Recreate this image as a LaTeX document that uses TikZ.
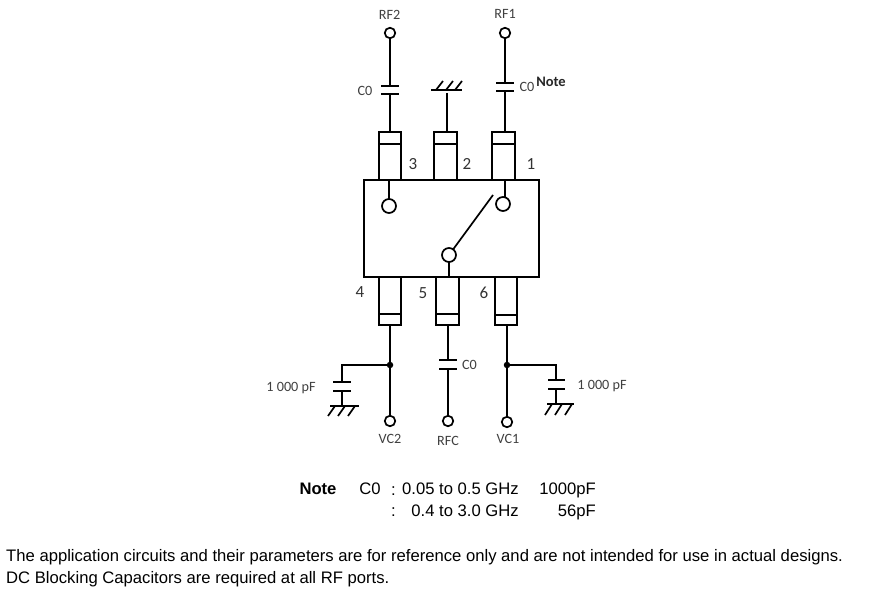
\documentclass[tikz,border=0pt]{standalone}
\usepackage{fontspec}
\setmainfont{Liberation Sans}
\newfontfamily\calfont{Carlito}
\tikzset{
  x=1pt,y=-1pt,
  wire/.style={line width=1.7pt,black},
  pkg/.style={draw,line width=1.8pt,minimum width=22pt,minimum height=48pt,inner sep=0pt,outer sep=0pt},
  body/.style={draw,line width=1.7pt,minimum width=175pt,minimum height=97pt,inner sep=0pt,outer sep=0pt},
  term/.style={draw,circle,line width=1.7pt,minimum size=10.5pt,inner sep=0pt,outer sep=0pt,fill=white},
  innerterm/.style={draw,circle,line width=1.7pt,minimum size=14pt,inner sep=0pt,outer sep=0pt,fill=white},
  junction/.style={circle,fill=black,minimum size=6.5pt,inner sep=0pt,outer sep=0pt},
  lbl/.style={font=\calfont\fontsize{14.2}{16}\selectfont,text=black!75,inner sep=0pt},
  pinlbl/.style={font=\calfont\fontsize{17}{18}\selectfont,text=black!80,inner sep=0pt},
  notetxt/.style={font=\fontsize{16.65}{18}\selectfont,text=black,inner sep=0pt},
}
\newcommand{\plates}[4]{% x1, x2, y1, y2
  \draw[wire] (#1,#3) -- (#2,#3);
  \draw[wire] (#1,#4) -- (#2,#4);}
\begin{document}
\begin{tikzpicture}
\useasboundingbox (0,0) rectangle (874,593);
% package and leads
\node[body] (ic) at (451.5,228.5) {};
\node[pkg] (p3) at (390,156) {};
\node[pkg,minimum width=23pt] (p2) at (445.5,156) {};
\node[pkg,minimum width=23pt] (p1) at (503.5,156) {};
\node[pkg] (p4) at (390,301) {};
\node[pkg,minimum width=23pt] (p5) at (447.5,301) {};
\node[pkg] (p6) at (506,301) {};
\draw[wire] (p3.west|-0,144) -- (p3.east|-0,144);
\draw[wire] (p2.west|-0,144) -- (p2.east|-0,144);
\draw[wire] (p1.west|-0,144) -- (p1.east|-0,144);
\draw[wire] (p4.west|-0,314) -- (p4.east|-0,314);
\draw[wire] (p5.west|-0,314) -- (p5.east|-0,314);
\draw[wire] (p6.west|-0,315) -- (p6.east|-0,315);
% inner switch
\node[innerterm] (sw3) at (389,206) {};
\node[innerterm] (sw1) at (503,204) {};
\node[innerterm] (swc) at (449,255) {};
\coordinate (icsw3) at (389,180);
\coordinate (icsw1) at (505,180);
\coordinate (sw1t) at (505,197);
\coordinate (icswc) at (449,277);
\coordinate (armend) at (493,195);
\draw[wire] (icsw3) -- (sw3);
\draw[wire] (icsw1) -- (sw1t);
\draw[wire] (swc) -- (icswc);
\draw[wire] (swc) -- (armend);
% terminals
\node[term] (rf2) at (390,33) {};
\node[term] (rf1) at (505,33) {};
\node[term] (vc2) at (390,421) {};
\node[term] (rfc) at (448,421) {};
\node[term] (vc1) at (507,422) {};
\node[junction] (j2) at (390,365) {};
\node[junction] (j1) at (507,365) {};
% RF2 with C0
\coordinate (c3a) at (390,86); \coordinate (c3b) at (390,94); \coordinate (p3t) at (390,132);
\draw[wire] (rf2) -- (c3a); \draw[wire] (c3b) -- (p3t);
\plates{381}{399}{86}{94}
% RF1 with C0
\coordinate (c1a) at (505,83); \coordinate (c1b) at (505,91); \coordinate (p1t) at (505,132);
\draw[wire] (rf1) -- (c1a); \draw[wire] (c1b) -- (p1t);
\plates{496}{514}{83}{91}
% pin 2 ground
\coordinate (g2) at (447,93); \coordinate (p2t) at (447,132);
\draw[wire] (g2) -- (p2t);
\draw[wire] (431,90) -- (462,90);
\draw[wire] (436,90) -- (443,81);
\draw[wire] (446,90) -- (453,81);
\draw[wire] (455,90) -- (462,81);
% VC2
\coordinate (p4b) at (390,325);
\draw[wire] (p4b) -- (j2); \draw[wire] (j2) -- (vc2);
\coordinate (b2c) at (342,365); \coordinate (b2a) at (342,382); \coordinate (b2d) at (342,391); \coordinate (b2g) at (342,406);
\draw[wire] (j2) -- (b2c) -- (b2a); \draw[wire] (b2d) -- (b2g);
\plates{333}{351}{382}{391}
\draw[wire] (330,406) -- (359,406);
\draw[wire] (335,406) -- (328,416);
\draw[wire] (345,406) -- (338,416);
\draw[wire] (355,406) -- (348,416);
% RFC
\coordinate (p5b) at (448,325); \coordinate (c5a) at (448,360); \coordinate (c5b) at (448,369);
\draw[wire] (p5b) -- (c5a); \draw[wire] (c5b) -- (rfc);
\plates{439}{457}{360}{369}
% VC1
\coordinate (p6b) at (507,325);
\draw[wire] (p6b) -- (j1); \draw[wire] (j1) -- (vc1);
\coordinate (b1c) at (556,365); \coordinate (b1a) at (556,380); \coordinate (b1d) at (556,389); \coordinate (b1g) at (556,404);
\draw[wire] (j1) -- (b1c) -- (b1a); \draw[wire] (b1d) -- (b1g);
\plates{548}{565}{380}{389}
\draw[wire] (547,404) -- (574,404);
\draw[wire] (552,404) -- (545,415);
\draw[wire] (562,404) -- (555,415);
\draw[wire] (572,404) -- (565,415);
% labels
\node[lbl] (lrf2) at (389.5,14.5) {RF2};
\node[lbl] (lrf1) at (505,14) {RF1};
\node[lbl] (lc3) at (365,90.5) {C0};
\node[lbl] (lc1) at (527,86.5) {C0};
\node[lbl,font=\calfont\bfseries\fontsize{14.5}{16}\selectfont,text=black!85] (lnote) at (551,82) {Note};
\node[pinlbl] (l3) at (413,164) {3};
\node[pinlbl] (l2) at (467,164) {2};
\node[pinlbl] (l1) at (531,164) {1};
\node[pinlbl] (l4) at (360,292) {4};
\node[pinlbl] (l5) at (423,293) {5};
\node[pinlbl] (l6) at (484,293) {6};
\node[lbl] (lc5) at (469.5,365) {C0};
\node[lbl] (lpf2) at (291,388) {1 000 pF};
\node[lbl] (lpf1) at (602,386) {1 000 pF};
\node[lbl] (lvc2) at (390,439) {VC2};
\node[lbl] (lrfc) at (448,441) {RFC};
\node[lbl] (lvc1) at (508,439) {VC1};
% note block
\node[notetxt,font=\bfseries\fontsize{16.65}{18}\selectfont,anchor=base] (n0) at (318,494) {Note};
\node[notetxt,anchor=base] (n1) at (370,494) {C0};
\node[notetxt,anchor=base] (n2) at (393.5,495) {:};
\node[notetxt,anchor=base east] (n3) at (519,494) {0.05 to 0.5 GHz};
\node[notetxt,anchor=base east] (n4) at (596,494) {1000pF};
\node[notetxt,anchor=base] (n5) at (393.5,516) {:};
\node[notetxt,anchor=base east] (n6) at (519,516) {0.4 to 3.0 GHz};
\node[notetxt,anchor=base east] (n7) at (596,516) {56pF};
\node[notetxt,anchor=base west] (t1) at (6,561) {The application circuits and their parameters are for reference only and are not intended for use in actual designs.};
\node[notetxt,anchor=base west] (t2) at (6,583) {DC Blocking Capacitors are required at all RF ports.};
\end{tikzpicture}
\end{document}
